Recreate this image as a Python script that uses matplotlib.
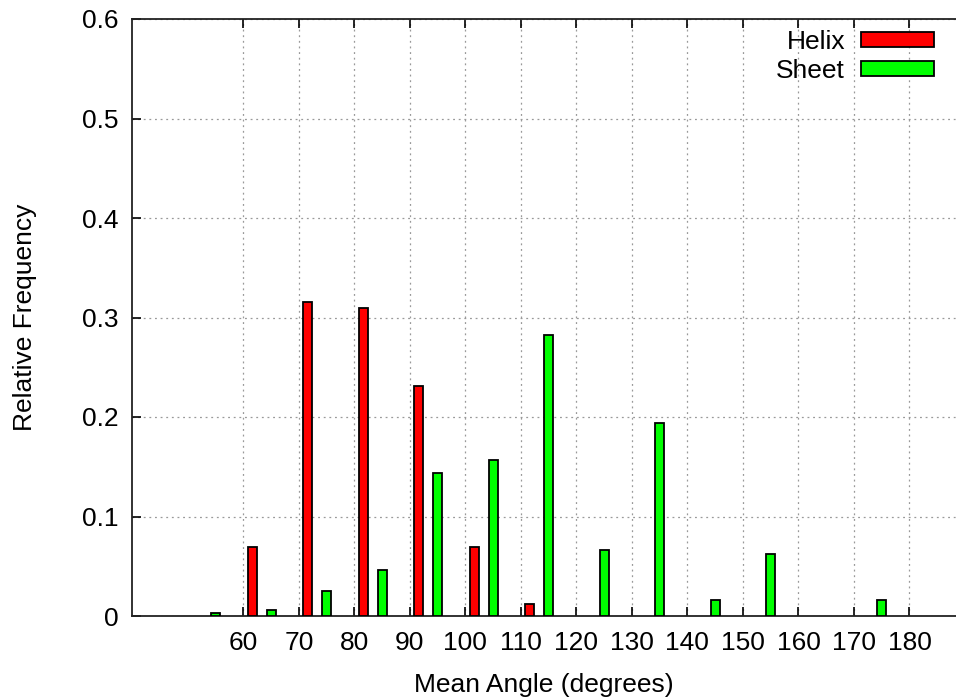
import numpy as np
import matplotlib
matplotlib.use("Agg")
import matplotlib.pyplot as plt
from matplotlib.patches import Patch

plt.rcParams['font.family'] = ['Liberation Sans', 'DejaVu Sans']

# Helix bins (bar centres) and relative frequencies
helix_x = [61.6, 71.6, 81.6, 91.6, 101.6, 111.6]
helix_y = [0.069, 0.316, 0.310, 0.231, 0.069, 0.012]

# Sheet bins and relative frequencies
sheet_x = [55, 65, 75, 85, 95, 105, 115, 125, 135, 145, 155, 175]
sheet_y = [0.003, 0.006, 0.025, 0.046, 0.144, 0.157, 0.282, 0.066, 0.194, 0.016, 0.062, 0.016]

xticks = np.arange(60, 181, 10)
yticks = [0, 0.1, 0.2, 0.3, 0.4, 0.5, 0.6]

fs = 19
W, H = 956, 697
fig = plt.figure(figsize=(W / 100, H / 100), dpi=100)
left, right, top, bottom = 132.3, 965.0, 19.0, 616.0
ax = fig.add_axes([left / W, 1 - bottom / H, (right - left) / W, (bottom - top) / H])

bw = 1.6
ax.bar(helix_x, helix_y, width=bw, color='#ff0000', edgecolor='black', linewidth=1.3, zorder=3)
ax.bar(sheet_x, sheet_y, width=bw, color='#00ff00', edgecolor='black', linewidth=1.3, zorder=3)

ax.set_xlim(40, 190)
ax.set_ylim(0, 0.6)
ax.set_xticks(xticks)
ax.set_xticklabels([str(t) for t in xticks])
ax.set_yticks(yticks)
ax.set_yticklabels(['0', '0.1', '0.2', '0.3', '0.4', '0.5', '0.6'])
ax.tick_params(axis='both', direction='in', length=6.5, width=1.2, labelsize=fs,
               top=True, right=True)
ax.tick_params(axis='y', pad=10)
ax.tick_params(axis='x', pad=11)
ax.grid(True, linestyle=(0, (1.5, 3)), color='#999999', linewidth=0.9, zorder=0)
for s in ax.spines.values():
    s.set_linewidth(1.3)
    s.set_color('#222222')

ax.set_xlabel('Mean Angle (degrees)', fontsize=fs)
ax.set_ylabel('Relative Frequency', fontsize=fs)
ax.xaxis.set_label_coords((544 - left) / (right - left), -(697 - bottom) / (bottom - top))
ax.xaxis.label.set_va('bottom')
ax.yaxis.set_label_coords((25 - left) / (right - left), 0.5)
ax.yaxis.label.set_va('center')

handles = [Patch(facecolor='#ff0000', edgecolor='black', linewidth=1.3, label='Helix'),
           Patch(facecolor='#00ff00', edgecolor='black', linewidth=1.3, label='Sheet')]
ax.legend(handles=handles, loc='upper right', bbox_to_anchor=(934 / W, 1 - 30 / H),
          bbox_transform=fig.transFigure, frameon=False, markerfirst=False,
          fontsize=fs, handlelength=2.75, handleheight=0.5, handletextpad=0.62,
          labelspacing=0.2, borderpad=0, borderaxespad=0)

fig.savefig('out.png', dpi=100)
